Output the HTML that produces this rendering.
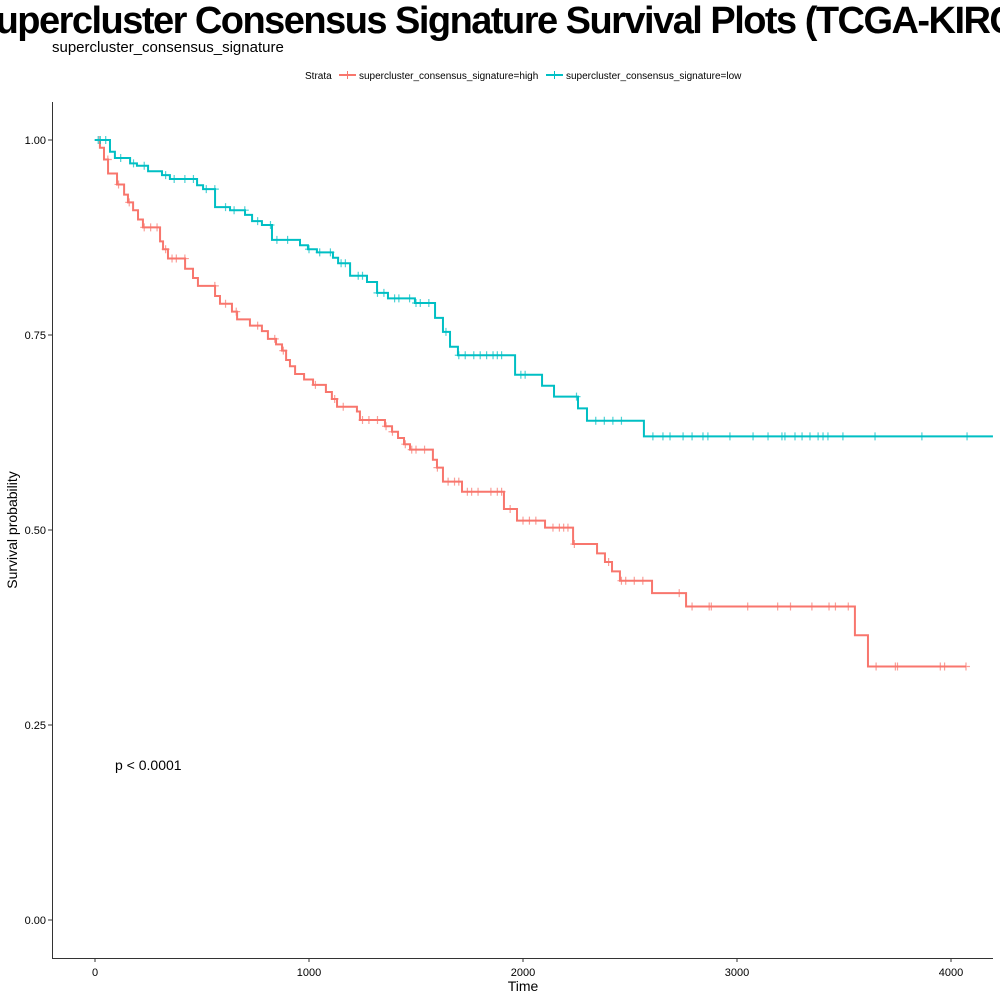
<!DOCTYPE html>
<html><head><meta charset="utf-8"><style>
body{margin:0;background:#fff;font-family:"Liberation Sans",sans-serif}
</style></head><body>
<svg id="chart" width="1000" height="1000" xmlns="http://www.w3.org/2000/svg" font-family="Liberation Sans, sans-serif">
<text x="502" y="33" font-size="38" font-weight="bold" text-anchor="middle" textLength="1052" lengthAdjust="spacing">supercluster Consensus Signature Survival Plots (TCGA-KIRC)</text>
<text x="52" y="52" font-size="15">supercluster_consensus_signature</text>
<g font-size="10">
<text x="305" y="79">Strata</text>
<g><line x1="339" y1="75" x2="356" y2="75" stroke="#F8766D" stroke-width="2"/><line x1="347.5" y1="71" x2="347.5" y2="79" stroke="#F8766D" stroke-width="1"/><text x="359" y="79">supercluster_consensus_signature=high</text></g>
<g><line x1="546" y1="75" x2="563" y2="75" stroke="#00BFC4" stroke-width="2"/><line x1="554.5" y1="71" x2="554.5" y2="79" stroke="#00BFC4" stroke-width="1"/><text x="566" y="79">supercluster_consensus_signature=low</text></g>
</g>
<g id="plot"></g>
<line x1="52.5" y1="102" x2="52.5" y2="958" stroke="#333" stroke-width="1"/>
<line x1="52" y1="958.5" x2="993" y2="958.5" stroke="#333" stroke-width="1"/>
<g id="xt"></g><g id="yt"></g>
<text x="523" y="991" font-size="14" text-anchor="middle">Time</text>
<text transform="translate(17,530) rotate(-90)" font-size="14" text-anchor="middle">Survival probability</text>
<text x="115" y="770" font-size="14">p &lt; 0.0001</text>
</svg>
<script>
const highTimes=[23,42,61,103,136,154,178,201,224,304,318,341,421,458,481,561,584,640,664,724,780,808,846,874,893,911,935,977,1019,1079,1107,1131,1224,1238,1355,1388,1416,1444,1472,1579,1598,1626,1715,1911,1972,2103,2234,2346,2383,2416,2453,2603,2762,3551,3612];
const highSurv=[0.99,0.975,0.957,0.943,0.93,0.92,0.91,0.898,0.888,0.87,0.86,0.848,0.835,0.823,0.813,0.80,0.79,0.78,0.77,0.762,0.755,0.745,0.738,0.73,0.718,0.71,0.70,0.693,0.686,0.677,0.668,0.658,0.652,0.641,0.633,0.626,0.618,0.61,0.603,0.59,0.58,0.562,0.549,0.527,0.512,0.503,0.482,0.47,0.459,0.447,0.435,0.419,0.402,0.365,0.325];
const highEnd=4070;
const highCensor=[20,60,110,160,230,260,290,330,360,380,420,560,610,660,760,840,880,1030,1120,1160,1250,1280,1320,1360,1390,1450,1480,1500,1540,1600,1650,1680,1700,1740,1760,1790,1850,1880,1900,1940,2000,2030,2060,2140,2170,2190,2210,2240,2400,2460,2480,2520,2560,2730,2790,2870,2880,3050,3190,3250,3350,3430,3460,3520,3650,3740,3750,3950,3970,4070];
const lowTimes=[70,93,164,196,248,313,350,477,505,561,631,701,734,780,827,958,995,1037,1112,1136,1192,1271,1318,1369,1495,1589,1626,1659,1696,1963,2089,2145,2257,2299,2565];
const lowSurv=[0.985,0.977,0.97,0.967,0.96,0.955,0.95,0.942,0.937,0.914,0.91,0.904,0.896,0.891,0.872,0.865,0.86,0.856,0.849,0.842,0.826,0.818,0.804,0.797,0.791,0.772,0.754,0.735,0.724,0.699,0.685,0.671,0.656,0.64,0.62];
const lowEnd=4196;
const lowCensor=[15,25,50,120,180,230,330,370,420,460,520,560,610,650,700,760,820,850,900,1000,1050,1100,1150,1170,1230,1250,1320,1350,1400,1420,1470,1500,1520,1560,1640,1700,1730,1770,1800,1830,1860,1880,1900,1990,2010,2250,2340,2380,2420,2460,2607,2654,2687,2748,2790,2841,2864,2967,3075,3145,3210,3224,3271,3304,3341,3379,3402,3425,3495,3645,3864,4075];
const xTicks=[0,1000,2000,3000,4000];
const yTicks=[0,0.25,0.5,0.75,1];
const yTickLabels=["0.00","0.25","0.50","0.75","1.00"];

const NS="http://www.w3.org/2000/svg";
const xS=t=>95+t*0.214;
const yS=s=>920-s*780;
function mk(tag,attrs,parent){const e=document.createElementNS(NS,tag);for(const k in attrs)e.setAttribute(k,attrs[k]);parent.appendChild(e);return e;}
const plot=document.getElementById('plot');
function survAt(times,surv,t){let s=1;for(let i=0;i<times.length;i++){if(times[i]<=t)s=surv[i];}return s;}
function drawSeries(times,surv,end,censor,color,name){
  let d="M"+xS(0)+","+yS(1);
  for(let i=0;i<times.length;i++){d+=" H"+xS(times[i])+" V"+yS(surv[i]);}
  d+=" H"+xS(end);
  const p=mk('path',{d:d,fill:"none",stroke:color,"stroke-width":2},plot);
  
  
  censor.forEach(t=>{
    const x=xS(t),y=yS(survAt(times,surv,t));
    const g=mk('path',{d:`M${x-4},${y} H${x+4} M${x},${y-4} V${y+4}`,stroke:color,"stroke-width":1.2,opacity:0.7},plot);
    
    
  });
}
drawSeries(highTimes,highSurv,highEnd,highCensor,"#F8766D","high");
drawSeries(lowTimes,lowSurv,lowEnd,lowCensor,"#00BFC4","low");
const xt=document.getElementById('xt'),yt=document.getElementById('yt');
xTicks.forEach(v=>{
  const l=mk('line',{x1:xS(v),x2:xS(v),y1:958,y2:962,stroke:"#333"},xt);
  
  
  const t=mk('text',{x:xS(v),y:976,"font-size":11,"text-anchor":"middle"},xt);t.textContent=v;
  
  
});
yTicks.forEach((v,i)=>{
  const l=mk('line',{x1:48,x2:52,y1:yS(v),y2:yS(v),stroke:"#333"},yt);
  
  
  const t=mk('text',{x:46,y:yS(v)+4,"font-size":11,"text-anchor":"end"},yt);t.textContent=yTickLabels[i];
  
  
});
</script>
</body></html>
